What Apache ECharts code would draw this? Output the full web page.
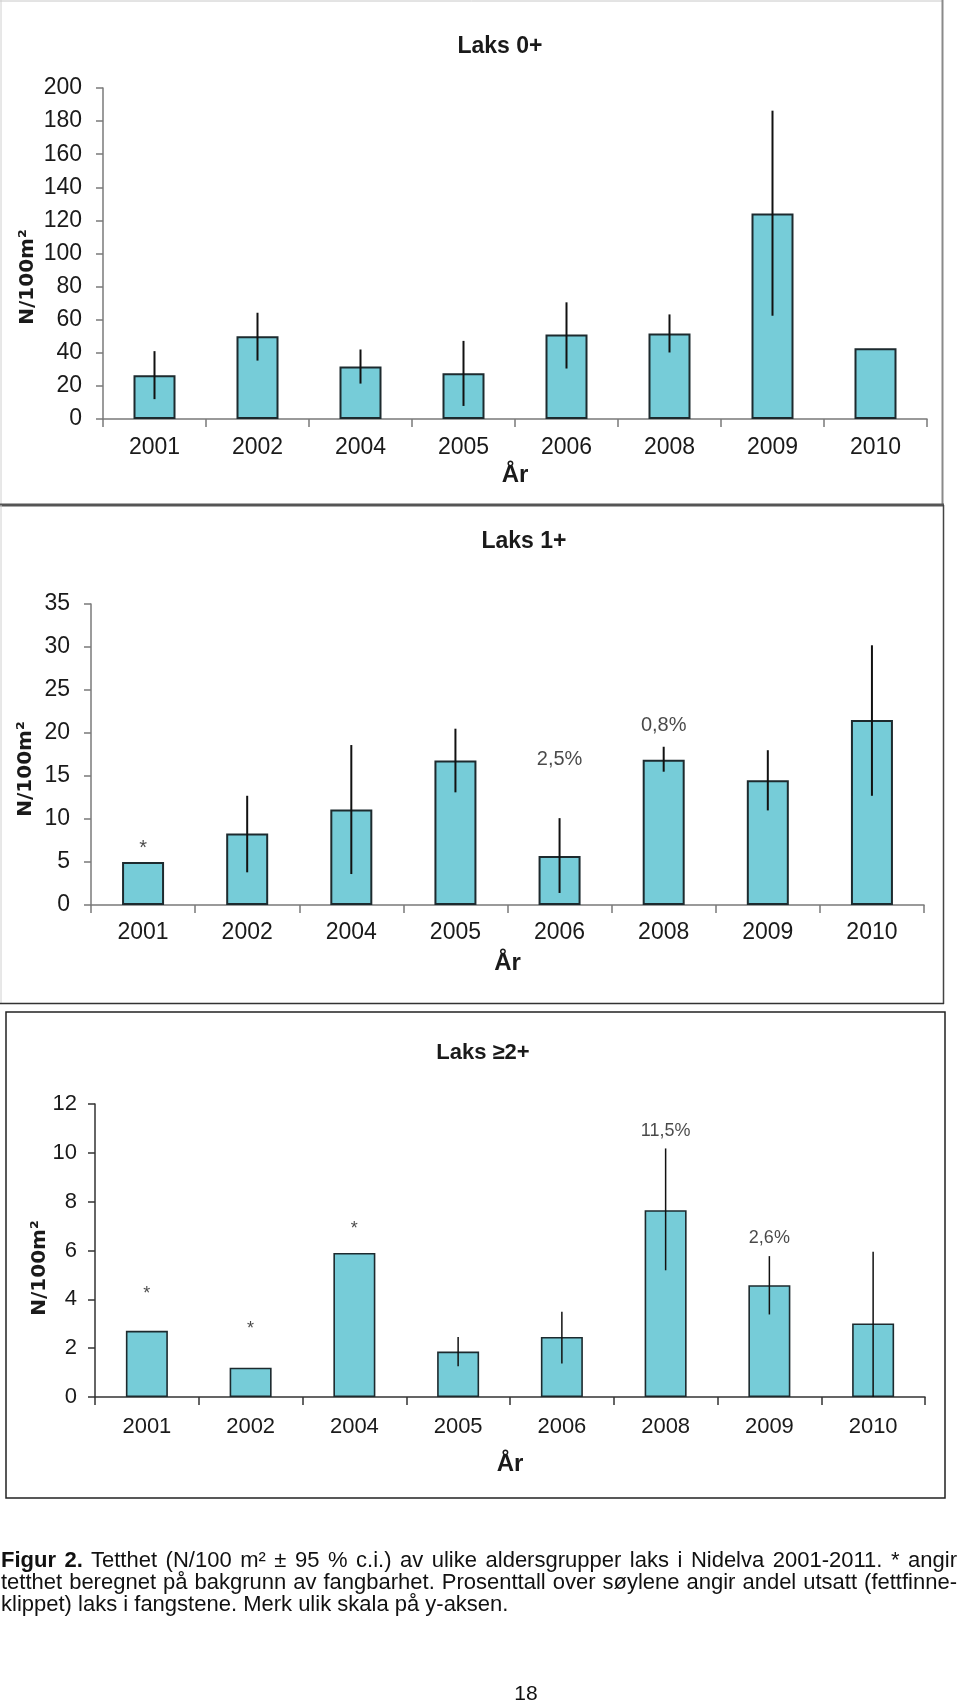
<!DOCTYPE html>
<html>
<head>
<meta charset="utf-8">
<script src="https://cdn.jsdelivr.net/npm/echarts@6/dist/echarts.min.js"></script>
<style>
  html, body { margin:0; padding:0; background:#fff; }
  #chart { position:absolute; left:0; top:0; width:960px; height:1701px; }
  .cap { position:absolute; left:1px; width:956px; font-family:'Liberation Sans', Arial, sans-serif; font-size:22px; color:#111; white-space:nowrap; line-height:22px; }
  .j { text-align:justify; text-align-last:justify; }
  #pg { position:absolute; left:0; width:1052px; top:1681px; text-align:center; font-family:'Liberation Sans', Arial, sans-serif; font-size:21px; color:#111; }
</style>
</head>
<body>
<div id="chart"></div>
<div class="cap j" style="top:1549px;"><b>Figur 2.</b> Tetthet (N/100 m² ± 95 % c.i.) av ulike aldersgrupper laks i Nidelva 2001-2011. * angir</div>
<div class="cap j" style="top:1571px;">tetthet beregnet på bakgrunn av fangbarhet. Prosenttall over søylene angir andel utsatt (fettfinne-</div>
<div class="cap" style="top:1593px;">klippet) laks i fangstene. Merk ulik skala på y-aksen.</div>
<div id="pg">18</div>
<script>
// ---------- DATA ----------
var categories = ['2001', '2002', '2004', '2005', '2006', '2008', '2009', '2010'];

// Laks 0+
var laks0 = [26.5, 50, 31.7, 27.7, 51.1, 51.7, 124.1, 42.8];
var laks0Low = [12, 35.3, 21.4, 7.9, 30.5, 40.2, 62.4, null];
var laks0High = [41, 64.2, 42, 47.2, 70.5, 63.2, 186.3, null];

// Laks 1+
var laks1 = [5, 8.3, 11.1, 16.8, 5.7, 16.9, 14.5, 21.5];
var laks1Low = [null, 3.8, 3.6, 13.1, 1.4, 15.5, 11, 12.7];
var laks1High = [null, 12.7, 18.6, 20.5, 10.1, 18.4, 18, 30.2];
var laks1Notes = ['*', '', '', '', '2,5%', '0,8%', '', ''];
var laks1NoteY = [6.6, null, null, null, 16.9, 20.9, null, null];

// Laks >=2+
var laks2 = [2.71, 1.2, 5.9, 1.86, 2.46, 7.65, 4.58, 3.01];
var laks2Low = [null, null, null, 1.26, 1.37, 5.19, 3.38, 0];
var laks2High = [null, null, null, 2.46, 3.49, 10.18, 5.77, 5.95];
var laks2Notes = ['*', '*', '*', '', '', '11,5%', '2,6%', ''];
var laks2NoteY = [4.2, 2.79, 6.86, null, null, 10.9, 6.52, null];

// axis scales
var yScale0 = { min: 0, max: 200, interval: 20 };
var yScale1 = { min: 0, max: 35, interval: 5 };
var yScale2 = { min: 0, max: 12, interval: 2 };

var titles = ['Laks 0+', 'Laks 1+', 'Laks \u22652+'];
var yName = 'N/100m\u00b2';
var xName = '\u00c5r';

// ---------- BUILD ----------
var FONT = "'Liberation Sans', Arial, sans-serif";
var BAR = '#76CCD8';
var EDGE = '#1d2a2e';

function errData(low, high) {
  var d = [];
  for (var i = 0; i < low.length; i++) {
    if (low[i] != null && high[i] != null) d.push([i, low[i], high[i]]);
  }
  return d;
}
function noteData(ys) {
  var d = [];
  for (var i = 0; i < ys.length; i++) if (ys[i] != null) d.push([i, ys[i]]);
  return d;
}

var grids = [
  { left: 103, right: 33, top: 88, bottom: 1701 - 419 },
  { left: 91, right: 36, top: 604, bottom: 1701 - 905 },
  { left: 95, right: 35, top: 1104, bottom: 1701 - 1397 }
];
var labelSizes = [23, 23, 22];
var axisColors = ['#7a7a7a', '#7a7a7a', '#333'];
var xMargins = [17, 16, 19];
var xNameGaps = [44, 46, 55];
var yMargins = [21, 21, 18];
var scales = [yScale0, yScale1, yScale2];

var xAxes = [], yAxes = [], series = [];
for (var g = 0; g < 3; g++) {
  xAxes.push({
    gridIndex: g, type: 'category', data: categories,
    name: xName, nameLocation: 'middle', nameGap: xNameGaps[g],
    nameTextStyle: { fontFamily: FONT, fontWeight: 'bold', fontSize: 24, color: '#1a1a1a' },
    axisLine: { lineStyle: { color: axisColors[g], width: 1.5 } },
    axisTick: { show: true, length: 8, interval: 0, lineStyle: { color: axisColors[g], width: 1.5 } },
    axisLabel: { fontFamily: FONT, fontSize: labelSizes[g], color: '#1a1a1a', margin: xMargins[g], interval: 0 }
  });
  yAxes.push({
    gridIndex: g, type: 'value', min: scales[g].min, max: scales[g].max, interval: scales[g].interval,
    splitLine: { show: false },
    axisLine: { show: true, lineStyle: { color: axisColors[g], width: 1.5 } },
    axisTick: { show: true, length: 7, lineStyle: { color: axisColors[g], width: 1.5 } },
    axisLabel: { fontFamily: FONT, fontSize: labelSizes[g], color: '#1a1a1a', margin: yMargins[g] }
  });
}

var vals = [laks0, laks1, laks2];
var errs = [errData(laks0Low, laks0High), errData(laks1Low, laks1High), errData(laks2Low, laks2High)];
var notes = [null, { t: laks1Notes, y: laks1NoteY }, { t: laks2Notes, y: laks2NoteY }];
var borderW = [2, 2, 1.6];
var errW = [2, 2, 1.5];

for (var g = 0; g < 3; g++) {
  series.push({
    type: 'bar', xAxisIndex: g, yAxisIndex: g, data: vals[g], barWidth: 42,
    itemStyle: { color: BAR, borderColor: EDGE, borderWidth: borderW[g] },
    silent: true, animation: false
  });
  (function (gi) {
    series.push({
      type: 'custom', xAxisIndex: gi, yAxisIndex: gi, data: errs[gi], z: 5, animation: false, silent: true,
      encode: { x: 0, y: [1, 2] },
      renderItem: function (params, api) {
        var a = api.coord([api.value(0), api.value(1)]);
        var b = api.coord([api.value(0), api.value(2)]);
        return { type: 'line', shape: { x1: a[0], y1: a[1], x2: b[0], y2: b[1] },
                 style: { stroke: '#111', lineWidth: errW[gi] } };
      }
    });
    if (notes[gi]) {
      var nt = notes[gi];
      series.push({
        type: 'scatter', xAxisIndex: gi, yAxisIndex: gi, data: noteData(nt.y), symbolSize: 0,
        animation: false, silent: true, z: 6,
        label: {
          show: true, position: 'inside', fontFamily: FONT, color: '#1a1a1a',
          fontSize: gi === 1 ? 20 : 18,
          formatter: function (p) { return nt.t[p.data[0]]; }
        }
      });
    }
  })(g);
}

var titleCfg = [
  { text: titles[0], left: 500, top: 35 },
  { text: titles[1], left: 524, top: 530 },
  { text: titles[2], left: 483, top: 1042 }
].map(function (t, i) {
  return { text: t.text, left: t.left, top: t.top, textAlign: 'center', padding: 0,
           textStyle: { fontFamily: FONT, fontWeight: 'bold', fontSize: i === 2 ? 22 : 23, color: '#1a1a1a' } };
});

function yNameText(x, y) {
  return { type: 'text', x: x, y: y, rotation: Math.PI / 2,
           style: { text: yName, fontFamily: "'DejaVu Sans', Verdana, sans-serif", fontWeight: 'bold', fontSize: 20,
                    fill: '#1a1a1a', textAlign: 'center', textVerticalAlign: 'middle' } };
}
function hline(x1, x2, y, c, w) { return { type: 'line', shape: { x1: x1, y1: y, x2: x2, y2: y }, style: { stroke: c, lineWidth: w } }; }
function vline(x, y1, y2, c, w) { return { type: 'line', shape: { x1: x, y1: y1, x2: x, y2: y2 }, style: { stroke: c, lineWidth: w } }; }

var chart = echarts.init(document.getElementById('chart'), null, { renderer: 'canvas', width: 960, height: 1701 });
chart.setOption({
  backgroundColor: '#fff',
  animation: false,
  title: titleCfg,
  grid: grids,
  xAxis: xAxes,
  yAxis: yAxes,
  series: series,
  graphic: [
    // panel 1 frame
    hline(0, 943, 1, '#c8c8c8', 1),
    vline(1, 0, 505, '#d0d0d0', 1),
    vline(942.5, 0, 505, '#8a8a8a', 2),
    hline(0, 944, 505, '#555', 3),
    // panel 2 frame
    vline(1, 505, 1003, '#d0d0d0', 1),
    vline(943.5, 505, 1004, '#444', 1.5),
    hline(0, 944, 1003.5, '#333', 1.5),
    // panel 3 frame
    { type: 'rect', shape: { x: 6, y: 1012, width: 939, height: 486 }, style: { fill: null, stroke: '#222', lineWidth: 1.5 } },
    yNameText(28, 277),
    yNameText(26, 769),
    yNameText(40, 1268)
  ]
});
</script>
</body>
</html>
